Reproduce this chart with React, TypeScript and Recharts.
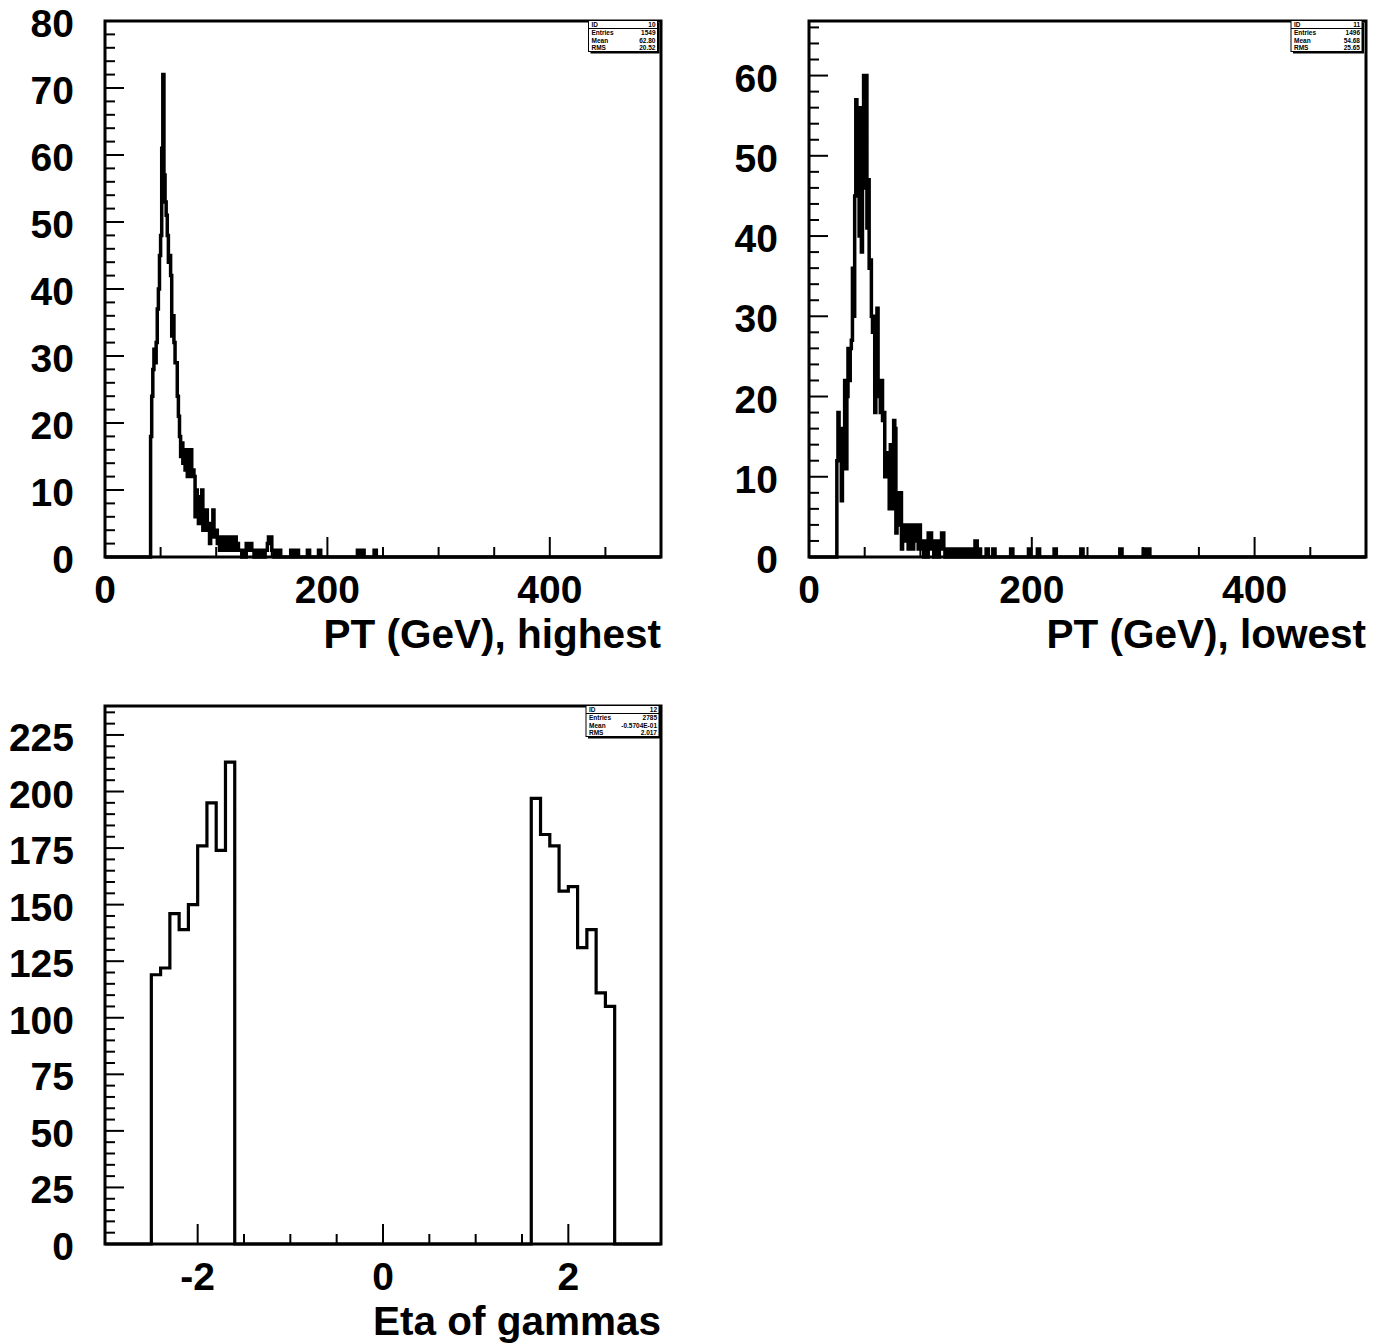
import React from "react";
import { LineChart, Line, XAxis, YAxis, ReferenceArea } from "recharts";

const FONT = '"Liberation Sans", Arial, Helvetica, sans-serif';

// ---------- Panel 1: PT (GeV), highest — 1 GeV bins, 0..500 ----------
const ptHighFirstBin = 41;
const ptHighCounts = [
  18, 24, 28, 31, 29, 32, 37, 40, 45, 48,
  61, 72, 57, 53, 51, 48, 44, 45, 42, 33,
  36, 32, 29, 29, 24, 21, 18, 15, 17, 14,
  16, 13, 15, 12, 16, 15, 16, 12, 13, 12,
  6, 10, 8, 5, 9, 7, 10, 4, 6, 5,
  7, 4, 5, 2, 4, 3, 7, 4, 3, 4,
  2, 3, 1, 3, 2, 3, 1, 3, 2, 3,
  1, 3, 2, 3, 1, 2, 3, 1, 2, 1,
  1, 1, 0, 1, 1, 0, 2, 1, 2, 1,
  2, 1, 1, 0, 1, 1, 0, 1, 1, 0,
  1, 1, 0, 1, 1, 2, 3, 2, 3, 1,
  1, 0, 1, 1, 0, 1, 1,
];
const ptHighTailBins = [167, 168, 172, 173, 182, 183, 192, 193, 227, 228, 231, 232, 242, 243];
const ptHighTailCounts = [1, 1, 1, 1, 1, 1, 1, 1, 1, 1, 1, 1, 1, 1];

// ---------- Panel 2: PT (GeV), lowest ----------
const ptLowFirstBin = 25;
const ptLowCounts = [
  12, 18, 16, 12, 7, 14, 16, 22, 11, 20,
  26, 22, 26, 27, 36, 30, 45, 57, 56, 51,
  40, 56, 38, 53, 60, 46, 60, 41, 47, 36,
  37, 30, 28, 30, 18, 28, 31, 20, 22, 18,
  22, 17, 18, 10, 13, 10, 13, 6, 14, 12,
  6, 17, 16, 3, 8, 7, 4, 8, 1, 4,
  3, 4, 2, 4, 1, 4, 2, 3, 1, 4,
  2, 4, 3, 1, 4, 2, 1, 2, 0, 2,
  1, 0, 3, 2, 3, 1, 2, 0, 1, 2,
  1, 0, 2, 1, 3, 3, 1, 0, 1, 1,
  0, 1, 1, 0, 1, 1, 0, 1, 1, 0,
  1, 1, 1, 0, 1, 1, 0, 1, 1, 1,
  0, 1, 1, 0, 2, 2, 1, 0, 1,
];
const ptLowTailBins = [159, 160, 165, 166, 181, 182, 197, 198, 205, 206, 220, 221, 244, 245, 279, 280, 300, 304, 305];
const ptLowTailCounts = [1, 1, 1, 1, 1, 1, 1, 1, 1, 1, 1, 1, 1, 1, 1, 1, 1, 1, 1];

// ---------- Panel 3: Eta of gammas — 0.1 bins, -3..3 ----------
const etaLeftFirstEdge = -2.5;
const etaLeftCounts = [119, 122, 146, 139, 150, 176, 195, 174, 213];
const etaRightFirstEdge = 1.6;
const etaRightCounts = [197, 181, 176, 156, 158, 131, 139, 111, 105];

// ---------- Axis tick labels ----------
const ptXMajor = [0, 200, 400];
const ptHighYMajor = [0, 10, 20, 30, 40, 50, 60, 70, 80];
const ptLowYMajor = [0, 10, 20, 30, 40, 50, 60];
const etaXMajor = [-2, 0, 2];
const etaYMajor = [0, 25, 50, 75, 100, 125, 150, 175, 200, 225];

// ---------- Stats boxes ----------
const statsHigh = [["ID", "10"], ["Entries", "1549"], ["Mean", "62.80"], ["RMS", "20.52"]];
const statsLow = [["ID", "11"], ["Entries", "1496"], ["Mean", "54.68"], ["RMS", "25.65"]];
const statsEta = [["ID", "12"], ["Entries", "2785"], ["Mean", "-0.5704E-01"], ["RMS", "2.017"]];

function range(lo: number, hi: number, step: number) {
  const out: number[] = [];
  const n = Math.round((hi - lo) / step);
  for (let i = 0; i <= n; i++) out.push(+(lo + i * step).toFixed(6));
  return out;
}

type Piece = { firstEdge: number; counts: number[] };

function buildHist(lo: number, width: number, nBins: number, pieces: Piece[]) {
  const counts = new Array(nBins).fill(0);
  pieces.forEach((p) => {
    const start = Math.round((p.firstEdge - lo) / width);
    p.counts.forEach((v, i) => {
      counts[start + i] = v;
    });
  });
  const pts: { x: number; y: number }[] = [];
  for (let i = 0; i <= nBins; i++) {
    pts.push({ x: +(lo + i * width).toFixed(6), y: counts[Math.min(i, nBins - 1)] });
  }
  return pts;
}

const ptHighData = buildHist(0, 1, 500, [
  { firstEdge: ptHighFirstBin, counts: ptHighCounts },
  ...ptHighTailBins.map((b, i) => ({ firstEdge: b, counts: [ptHighTailCounts[i]] })),
]);
const ptLowData = buildHist(0, 1, 500, [
  { firstEdge: ptLowFirstBin, counts: ptLowCounts },
  ...ptLowTailBins.map((b, i) => ({ firstEdge: b, counts: [ptLowTailCounts[i]] })),
]);
const etaData = buildHist(-3, 0.1, 60, [
  { firstEdge: etaLeftFirstEdge, counts: etaLeftCounts },
  { firstEdge: etaRightFirstEdge, counts: etaRightCounts },
]);

const YW = 60;
const XH = 30;

type PanelProps = {
  left: number;
  top: number;
  width: number;
  height: number;
  pl: number;
  pt: number;
  pr: number;
  pb: number;
  xDomain: [number, number];
  yDomain: [number, number];
  xTicks: number[];
  xMajor: number[];
  yTicks: number[];
  yMajor: number[];
  data: { x: number; y: number }[];
  title: string;
  lineWidth: number;
};

const isIn = (arr: number[], v: number) => arr.some((m) => Math.abs(m - v) < 1e-6);

function HistPanel(p: PanelProps) {
  const plotL = p.pl - p.left;
  const plotT = p.pt - p.top;
  const plotR = p.pr - p.left;
  const plotB = p.pb - p.top;
  const margin = {
    left: plotL - YW,
    top: plotT,
    right: p.width - plotR,
    bottom: p.height - plotB - XH,
  };

  const XTick = (props: any) => {
    const { x, payload } = props;
    const v = payload.value;
    const major = isIn(p.xMajor, v);
    const len = major ? 20 : 10;
    return (
      <g>
        <line x1={x} x2={x} y1={plotB} y2={plotB - len} stroke="#000" strokeWidth={2} />
        {major && (
          <text x={x} y={plotB + 46} textAnchor="middle" fontFamily={FONT} fontWeight="bold" fontSize={39} fill="#000">
            {String(v)}
          </text>
        )}
      </g>
    );
  };

  const YTick = (props: any) => {
    const { y, payload } = props;
    const v = payload.value;
    const major = isIn(p.yMajor, v);
    const len = major ? 19 : 10;
    return (
      <g>
        <line x1={plotL} x2={plotL + len} y1={y} y2={y} stroke="#000" strokeWidth={2} />
        {major && (
          <text x={plotL - 31} y={y + 16} textAnchor="end" fontFamily={FONT} fontWeight="bold" fontSize={39} fill="#000">
            {String(v)}
          </text>
        )}
      </g>
    );
  };

  const TitleLabel = () => (
    <text x={plotR} y={plotB + 91} textAnchor="end" fontFamily={FONT} fontWeight="bold" fontSize={40.5} fill="#000">
      {p.title}
    </text>
  );

  return (
    <div style={{ position: "absolute", left: p.left, top: p.top, width: p.width, height: p.height }}>
      <LineChart width={p.width} height={p.height} data={p.data} margin={margin}>
        <XAxis
          dataKey="x"
          type="number"
          domain={p.xDomain}
          ticks={p.xTicks}
          interval={0}
          height={XH}
          axisLine={false}
          tickLine={false}
          tick={<XTick />}
          label={{ content: <TitleLabel /> }}
        />
        <YAxis
          type="number"
          domain={p.yDomain}
          ticks={p.yTicks}
          interval={0}
          width={YW}
          axisLine={false}
          tickLine={false}
          tick={<YTick />}
        />
        <Line
          dataKey="y"
          type="stepAfter"
          stroke="#000"
          strokeWidth={p.lineWidth}
          dot={false}
          activeDot={false}
          isAnimationActive={false}
          strokeLinejoin="miter"
        />
        <ReferenceArea
          x1={p.xDomain[0]}
          x2={p.xDomain[1]}
          y1={p.yDomain[0]}
          y2={p.yDomain[1]}
          fill="none"
          fillOpacity={0}
          stroke="#000"
          strokeWidth={3}
          ifOverflow="visible"
        />
      </LineChart>
    </div>
  );
}

function StatsBox({ x, y, w, rows }: { x: number; y: number; w: number; rows: string[][] }) {
  const h = 31;
  const baselines = [6.3, 14.5, 22.3, 29.5];
  return (
    <g>
      <rect x={x + 2} y={y + 2} width={w} height={h} fill="#000" />
      <rect x={x} y={y} width={w} height={h} fill="#fff" stroke="#000" strokeWidth={1} />
      <line x1={x} x2={x + w} y1={y + 8} y2={y + 8} stroke="#000" strokeWidth={1} />
      {rows.map((r, i) => (
        <g key={i}>
          <text x={x + 3} y={y + baselines[i]} fontFamily={FONT} fontWeight="bold" fontSize={6.5} fill="#000">
            {r[0]}
          </text>
          <text x={x + w - 2} y={y + baselines[i]} textAnchor="end" fontFamily={FONT} fontWeight="bold" fontSize={6.5} fill="#000">
            {r[1]}
          </text>
        </g>
      ))}
    </g>
  );
}

export default function App() {
  return (
    <div style={{ position: "absolute", left: 0, top: 0, width: 1382, height: 1344, background: "#fff", overflow: "hidden" }}>
      <HistPanel
        left={0}
        top={0}
        width={700}
        height={680}
        pl={105}
        pt={21}
        pr={661}
        pb={557}
        xDomain={[0, 500]}
        yDomain={[0, 80]}
        xTicks={range(0, 500, 50)}
        xMajor={ptXMajor}
        yTicks={range(0, 80, 2)}
        yMajor={ptHighYMajor}
        data={ptHighData}
        title="PT (GeV), highest"
        lineWidth={3.5}
      />
      <HistPanel
        left={704}
        top={0}
        width={678}
        height={680}
        pl={809}
        pt={21}
        pr={1366}
        pb={557}
        xDomain={[0, 500]}
        yDomain={[0, 66.8]}
        xTicks={range(0, 500, 50)}
        xMajor={ptXMajor}
        yTicks={range(0, 66, 2)}
        yMajor={ptLowYMajor}
        data={ptLowData}
        title="PT (GeV), lowest"
        lineWidth={3.5}
      />
      <HistPanel
        left={0}
        top={685}
        width={700}
        height={659}
        pl={105}
        pt={706}
        pr={661}
        pb={1244}
        xDomain={[-3, 3]}
        yDomain={[0, 237.8]}
        xTicks={range(-3, 3, 0.5)}
        xMajor={etaXMajor}
        yTicks={range(0, 235, 5)}
        yMajor={etaYMajor}
        data={etaData}
        title="Eta of gammas"
        lineWidth={3.2}
      />
      <svg
        width={1382}
        height={1344}
        style={{ position: "absolute", left: 0, top: 0, pointerEvents: "none" }}
      >
        <StatsBox x={588.5} y={20.5} w={69} rows={statsHigh} />
        <StatsBox x={1291} y={20.5} w={71} rows={statsLow} />
        <StatsBox x={586} y={705.5} w={73} rows={statsEta} />
      </svg>
    </div>
  );
}
